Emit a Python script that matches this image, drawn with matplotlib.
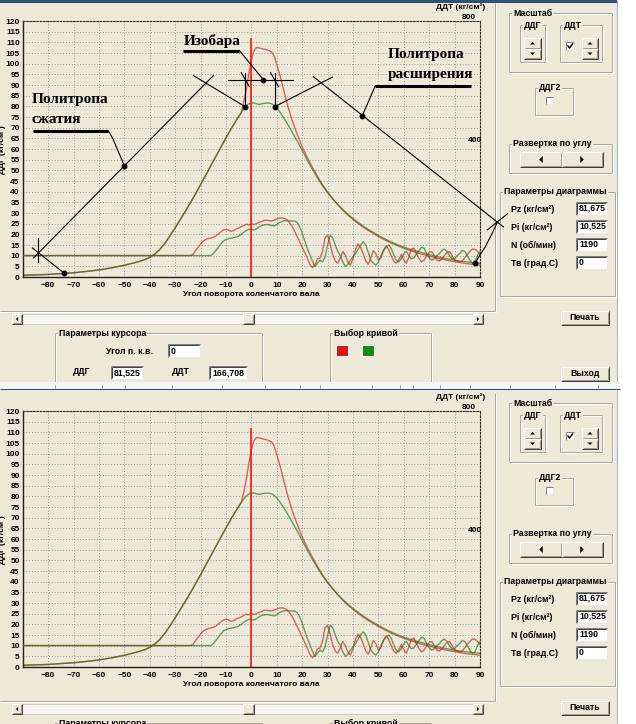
import matplotlib
matplotlib.use('Agg')
import matplotlib.pyplot as plt
from matplotlib.patches import Rectangle, Polygon

plt.rcParams['font.family'] = ['Liberation Sans', 'DejaVu Sans']
plt.rcParams['font.weight'] = 'bold'

# ---------------- data ----------------
# cylinder pressure ДДГ (кг/см²), left scale
angle_main = [-90, -85, -80, -75, -70, -65, -60, -55, -50, -45, -42,
              -40, -38, -36, -34, -32, -30, -28, -26, -24, -22, -20, -18, -16,
              -14, -12, -10, -8, -6, -4,
              -3, -2, -1, 0, 1, 2, 3, 4, 5, 6, 7, 8, 9, 10, 11, 12,
              14, 16, 18, 20, 22, 24, 26, 28, 30, 32, 34, 36, 38, 40, 42, 44,
              46, 48, 50, 52, 54, 56, 58, 60, 62, 64, 66, 68, 70, 72, 74, 76,
              78, 80, 82, 84, 86, 88, 90]
compression = [0.8, 1.0, 1.2, 1.6, 2.0, 2.6, 3.3, 4.3, 5.5, 7.0, 8.1,
               9.2, 10.8, 13.0, 15.9, 19.4, 23.1, 26.9, 30.8, 34.8, 39.0, 43.3,
               47.7, 52.1, 56.5, 60.9, 65.2, 69.4, 73.4, 77.1]
ddg_green = compression + [
    78.8, 80.2, 81.2, 81.5, 81.6, 81.2, 80.9, 81.1, 81.4, 81.5, 81.5, 81.2,
    80.4, 79.2, 77.7, 76.0,
    72.2, 68.0, 63.8, 59.3, 54.8, 50.5, 46.5, 42.8, 39.5, 36.6, 34.0, 31.6,
    29.4, 27.4, 25.6, 23.9, 22.3, 20.9, 19.5, 18.2, 17.0, 15.9, 14.9, 14.0,
    13.2, 12.5, 11.8, 11.1, 10.5, 9.9, 9.3, 8.8, 8.3, 7.9, 7.5, 7.2, 6.9,
    6.6, 6.4]
ddg_red = compression + [
    82.0, 88.0, 95.5, 102.0, 106.0, 107.6, 107.4, 107.1, 106.8, 106.5, 106.1,
    105.4, 103.5, 99.5, 95.5, 91.0,
    81.5, 73.5, 67.0, 61.0, 56.0, 51.5, 47.2, 43.2, 39.8, 36.7, 33.9, 31.3,
    29.0, 27.0, 25.1, 23.4, 21.8, 20.4, 19.0, 17.7, 16.5, 15.4, 14.4, 13.5,
    12.6, 11.8, 11.1, 10.4, 9.8, 9.2, 8.6, 8.1, 7.6, 7.2, 6.8, 6.4, 6.1,
    5.8, 5.5]

# fuel pressure ДДТ (кг/см²), right scale 0..800
angle_fuel = [-90] + list(range(-24, 91))
ddt_red = [67,
           67, 70, 83, 93, 103, 112, 117, 120, 122, 124, 128, 135, 141, 147,
           149, 147, 143, 145, 150, 153, 157, 161, 165, 163, 167, 164, 167,
           171, 173, 177, 177, 176, 175, 178, 181, 184, 185, 183, 179, 170,
           159, 143, 127, 110, 93, 77, 59, 40, 29, 37, 57, 59, 80, 123, 130,
           103, 70, 50, 43, 60, 80, 67, 47, 37, 57, 87, 103, 93, 73, 50, 40,
           60, 83, 73, 53, 60, 83, 97, 87, 67, 50, 43, 53, 70, 53, 43, 63, 87,
           90, 73, 57, 47, 53, 67, 77, 80, 67, 53, 50, 57, 67, 77, 80, 67, 53,
           50, 47, 50, 60, 70, 80, 87, 87, 80, 70]
ddt_green = [67,
             67, 67, 67, 67, 67, 67, 67, 67, 67, 73, 83, 93, 103, 113, 117,
             120, 121, 123, 125, 128, 133, 140, 145, 149, 148, 147, 151, 157,
             161, 163, 164, 163, 161, 160, 164, 170, 173, 176, 176, 175, 175,
             175, 170, 157, 137, 113, 90, 70, 50, 33, 43, 53, 47, 63, 100, 130,
             123, 100, 80, 67, 47, 33, 40, 53, 63, 73, 87, 100, 110, 100, 77,
             53, 43, 37, 47, 67, 83, 93, 100, 90, 70, 53, 47, 57, 73, 80, 67,
             57, 60, 73, 83, 93, 90, 73, 60, 53, 57, 67, 73, 83, 87, 80, 67,
             57, 57, 67, 73, 83, 80, 67, 53, 43, 47, 67, 80]

x_ticks = list(range(-80, 91, 10))
y_ticks = list(range(0, 121, 5))
cursor_pos = 0
param_names = ['Pz (кг/см²)', 'Pi (кг/см²)', 'N (об/мин)', 'Тв (град.С)']
param_values = ['81,675', '10,525', '1190', '0']
cursor_angle, cursor_ddg, cursor_ddt = '0', '81,525', '166,708'

# ---------------- look ----------------
W, H = 636, 724
BG = '#ECE9D8'
RED = (0.82, 0.1, 0.1)
GREEN = (0.1, 0.45, 0.1)
PX = 0.72  # one pixel in points
FS = 6.3

fig = plt.figure(figsize=(W / 100, H / 100), dpi=100, facecolor='white')
ui = fig.add_axes([0, 0, 1, 1], zorder=0)
ui.set_xlim(0, W)
ui.set_ylim(H, 0)
ui.axis('off')


def hline(x0, x1, y, c, z=2):
    ui.plot([x0, x1], [y, y], color=c, lw=PX, solid_capstyle='butt', zorder=z)


def vline(x, y0, y1, c, z=2):
    ui.plot([x, x], [y0, y1], color=c, lw=PX, solid_capstyle='butt', zorder=z)


def group(x0, y0, x1, y1, label=None, closed=True):
    for off, c in ((1, 'white'), (0, '#ACA899')):
        hline(x0 + off, x1 + off, y0 + off, c)
        if closed:
            hline(x0 + off, x1 + off, y1 + off, c)
        vline(x0 + off, y0 + off, y1 + off, c)
        vline(x1 + off, y0 + off, y1 + off, c)
    if label:
        ui.text(x0 + 4, y0, label, fontsize=FS, va='center', ha='left', zorder=3,
                bbox=dict(boxstyle='square,pad=0.12', fc=BG, ec='none'))


def button(x0, y0, x1, y1, label=None):
    ui.add_patch(Rectangle((x0, y0), x1 - x0, y1 - y0, fc=BG, ec='none', zorder=2))
    hline(x0, x1, y0, 'white', 3)
    vline(x0, y0, y1, 'white', 3)
    hline(x0, x1, y1, '#404040', 3)
    vline(x1, y0, y1, '#404040', 3)
    hline(x0 + 1, x1 - 1, y1 - 1, '#9d9a8a', 3)
    vline(x1 - 1, y0 + 1, y1 - 1, '#9d9a8a', 3)
    if label:
        ui.text((x0 + x1) / 2, (y0 + y1) / 2, label, fontsize=FS, ha='center',
                va='center', zorder=4)


def textbox(x0, y0, x1, y1, value):
    ui.add_patch(Rectangle((x0, y0), x1 - x0, y1 - y0, fc='white', ec='none', zorder=2))
    hline(x0, x1, y0, '#808080', 3)
    vline(x0, y0, y1, '#808080', 3)
    hline(x0 + 1, x1 - 1, y0 + 1, '#404040', 3)
    vline(x0 + 1, y0 + 1, y1 - 1, '#404040', 3)
    ui.text(x0 + 3, (y0 + y1) / 2 + 0.5, value, fontsize=FS, ha='left', va='center', zorder=4)


def tri(cx, cy, s, d):
    if d == 'up':
        pts = [(cx - s, cy + s / 2), (cx + s, cy + s / 2), (cx, cy - s / 2)]
    elif d == 'down':
        pts = [(cx - s, cy - s / 2), (cx + s, cy - s / 2), (cx, cy + s / 2)]
    elif d == 'left':
        pts = [(cx + s / 2, cy - s), (cx + s / 2, cy + s), (cx - s / 2, cy)]
    else:
        pts = [(cx - s / 2, cy - s), (cx - s / 2, cy + s), (cx + s / 2, cy)]
    ui.add_patch(Polygon(pts, closed=True, fc='black', ec='none', zorder=4))


def spinner(x0, y0, x1, y1):
    ym = (y0 + y1) / 2
    button(x0, y0, x1, ym)
    button(x0, ym, x1, y1)
    tri((x0 + x1) / 2, (y0 + ym) / 2, 2.5, 'up')
    tri((x0 + x1) / 2, (ym + y1) / 2, 2.5, 'down')


def checkbox(x0, y0, s, checked):
    ui.add_patch(Rectangle((x0, y0), s, s, fc='white', ec='none', zorder=2))
    hline(x0, x0 + s, y0, '#808080', 3)
    vline(x0, y0, y0 + s, '#808080', 3)
    if checked:
        ui.plot([x0 + 2, x0 + 3.5, x0 + 6.5], [y0 + 4, y0 + 6, y0 + 2],
                color='black', lw=1.1, zorder=4)


def draw_panel(dy, annotate):
    # window background
    ui.add_patch(Rectangle((0, dy), 617, 382 if dy == 0 else H - dy, fc=BG,
                           ec='none', zorder=1))
    vline(616.5, dy, 382 if dy == 0 else H, '#9cb0d0')

    # chart frame
    hline(0, 495, 310.5 + dy, '#ACA899')
    hline(0, 496, 311.5 + dy, 'white')
    vline(494.5, 3 + dy, 311 + dy, '#ACA899')
    vline(495.5, 3 + dy, 312 + dy, 'white')

    left, right, top, bottom = 22.8, 480.0, 21.0 + dy, 277.0 + dy
    ax = fig.add_axes([left / W, 1 - bottom / H, (right - left) / W, (bottom - top) / H],
                      zorder=1)
    ax.patch.set_visible(False)
    ax.set_xlim(-90, 90)
    ax.set_ylim(0, 120)
    ax.set_xticks(x_ticks)
    ax.set_yticks(y_ticks)
    ax.tick_params(length=0, labelsize=6)
    ax.tick_params(axis='y', pad=2.2)
    ax.tick_params(axis='x', pad=3.8)
    ax.grid(True, color='#8c8c8c', lw=0.6, ls=(0, (1.2, 2.2)))
    ax.set_axisbelow(True)
    for s in ('left', 'bottom'):
        ax.spines[s].set_color('#202020')
        ax.spines[s].set_linewidth(1.0)
    for s in ('top', 'right'):
        ax.spines[s].set_color('#303030')
        ax.spines[s].set_linewidth(0.8)
        ax.spines[s].set_linestyle((0, (1.5, 1.5)))
    ax.set_xlabel('Угол поворота коленчатого вала', fontsize=6, labelpad=1.5,
                  fontweight='bold')

    ax.plot(angle_main, ddg_red, color=RED, alpha=0.65, lw=1.0)
    ax.plot(angle_main, ddg_green, color=GREEN, alpha=0.65, lw=1.0)

    ax2 = ax.twinx()
    ax2.set_ylim(0, 800)
    ax2.set_yticks([])
    for s in ax2.spines.values():
        s.set_visible(False)
    ax2.plot(angle_fuel, ddt_red, color=RED, alpha=0.65, lw=1.0)
    ax2.plot(angle_fuel, ddt_green, color=GREEN, alpha=0.65, lw=1.0)
    ax2.axvline(cursor_pos, 0, 111.5 / 120, color='#ff1010', lw=1.2)

    ty = ax2.get_yaxis_transform()
    ax2.text(1.004, 425, '400', transform=ty, ha='right', va='center', fontsize=6)
    ax2.text(0.99, 800, '800', transform=ty, ha='right', va='bottom', fontsize=6)
    ui.text(485, 7 + dy, 'ДДТ (кг/см²)', ha='right', va='center', fontsize=6, zorder=3)
    ui.text(2.5, 150 + dy, 'ДДГ (кг/см²)', rotation=90, ha='center', va='center',
            fontsize=6, zorder=3)

    if annotate:
        draw_annotations(ax, ax2)

    # right-hand controls
    group(509, 13 + dy, 612, 72 + dy, 'Масштаб')
    group(520, 25 + dy, 545, 62 + dy, 'ДДГ')
    spinner(524, 38 + dy, 541, 59 + dy)
    group(560, 25 + dy, 602, 62 + dy, 'ДДТ')
    checkbox(566, 42 + dy, 8, True)
    spinner(582, 38 + dy, 598, 59 + dy)
    group(535, 88 + dy, 573, 115 + dy, 'ДДГ2')
    checkbox(546, 97 + dy, 7, False)
    group(509, 144 + dy, 612, 173 + dy, 'Развертка по углу')
    button(520, 152 + dy, 562, 167 + dy)
    button(562, 152 + dy, 603, 167 + dy)
    tri(541, 159.5 + dy, 3.5, 'left')
    tri(582, 159.5 + dy, 3.5, 'right')
    group(500, 192 + dy, 615, 296 + dy, 'Параметры диаграммы')
    for i, (name, val) in enumerate(zip(param_names, param_values)):
        yc = 208 + 18 * i + dy
        ui.text(511, yc + 1, name, fontsize=FS, ha='left', va='center', zorder=3)
        textbox(576, yc - 6.5, 607, yc + 6.5, val)

    # scrollbar and buttons
    ui.add_patch(Rectangle((12, 314 + dy), 471, 10, fc='#F7F6F1', ec='#D0CDC0',
                           lw=PX, zorder=2))
    button(12, 314 + dy, 22, 324 + dy)
    button(473, 314 + dy, 483, 324 + dy)
    button(243, 314 + dy, 254, 324 + dy)
    tri(17, 319 + dy, 2.2, 'left')
    tri(478, 319 + dy, 2.2, 'right')
    button(561, 311 + dy, 609, 325 + dy, 'Печать')

    # the window continues below the cut, so these frames stay open
    group(55, 333 + dy, 262, 384 + dy, 'Параметры курсора', closed=False)
    ui.text(153, 352 + dy, 'Угол п. к.в.', fontsize=FS, ha='right', va='center', zorder=3)
    textbox(168, 344 + dy, 200, 357 + dy, cursor_angle)
    ui.text(90, 372 + dy, 'ДДГ', fontsize=FS, ha='right', va='center', zorder=3)
    textbox(111, 366 + dy, 143, 379 + dy, cursor_ddg)
    ui.text(190, 372 + dy, 'ДДТ', fontsize=FS, ha='right', va='center', zorder=3)
    textbox(209, 366 + dy, 247, 379 + dy, cursor_ddt)
    group(330, 333 + dy, 431, 384 + dy, 'Выбор кривой', closed=False)
    ui.add_patch(Rectangle((336, 345 + dy), 12, 11, fc='#e01414', ec='white',
                           lw=PX, zorder=3))
    ui.add_patch(Rectangle((362, 345 + dy), 12, 11, fc='#138a13', ec='white',
                           lw=PX, zorder=3))
    button(561, 367 + dy, 609, 381 + dy, 'Выход')


def draw_annotations(ax, ax2):
    tr = ax.transData
    kw = dict(color='black', lw=0.8, transform=tr, clip_on=False, zorder=6)
    dot = dict(color='black', marker='o', ms=3.2, ls='none', transform=tr,
               clip_on=False, zorder=7)
    txt = dict(transform=tr, fontfamily=['Liberation Serif', 'DejaVu Serif'],
               fontweight='bold', fontsize=11, ha='left', va='center',
               clip_on=False, zorder=7)
    ul = dict(color='black', lw=2.2, transform=tr, clip_on=False, zorder=6,
              solid_capstyle='butt')

    # compression polytrope
    ax2.plot([-85.8, -15.0], [8.9, 94.4], **kw)
    ax2.plot([-86.2, -73.6], [13.6, 1.7], **kw)
    ax2.plot([-83.9, -83.9], [7.0, 18.3], **kw)
    ax2.plot([-22.8, -2.4], [94.4, 79.8], **kw)
    ax2.plot([-56.3, -54.6, -50.0], [68.5, 65.0, 52.1], **kw)
    ax2.plot([-86.0, -56.3], [68.5, 68.5], **ul)
    ax2.plot([-73.6, -50.0, -2.4], [1.7, 52.1, 79.8], **dot)
    ax2.text(-86.4, 83.3, 'Политропа', **txt)
    ax2.text(-86.4, 73.6, 'сжатия', **txt)

    # isobar
    ax2.plot([-9.1, 16.5], [92.5, 92.5], **kw)
    ax2.plot([-2.4, -2.4], [95.8, 79.8], **kw)
    ax2.plot([9.1, 9.1], [95.8, 79.8], **kw)
    ax2.plot([-4.0, -0.8], [95.8, 89.2], **kw)
    ax2.plot([7.5, 10.7], [95.8, 89.2], **kw)
    ax2.plot([-26.8, -4.7], [106.1, 106.1], **ul)
    ax2.plot([-4.7, 4.7], [106.1, 92.5], **kw)
    ax2.plot([4.7, 9.1], [92.5, 79.8], **dot)
    ax2.text(-26.8, 110.4, 'Изобара', **txt)

    # expansion polytrope
    ax2.plot([9.1, 31.9], [79.8, 93.7], **kw)
    ax2.plot([24.4, 99.2], [93.9, 23.5], **kw)
    ax2.plot([92.9, 100.8], [22.1, 29.6], **kw)
    ax2.plot([96.9, 94.8, 92.1, 87.9], [25.8, 20.5, 14.2, 6.4], **kw)
    ax2.plot([48.8, 86.4], [89.7, 89.7], **ul)
    ax2.plot([48.8, 43.7], [89.7, 75.7], **kw)
    ax2.plot([43.7, 87.9], [75.7, 6.4], **dot)
    ax2.text(53.5, 104.4, 'Политропа', **txt)
    ax2.text(53.5, 95.0, 'расширения', **txt)


draw_panel(0, True)
draw_panel(390, False)

# strip between the two screenshots and window edges
ui.add_patch(Rectangle((0, 382), 620, 7, fc='#F5F5F2', ec='none', zorder=8))
for xt in (55, 102, 125, 172, 222, 265, 300, 320, 372, 400, 413, 440, 470, 510,
           555, 598):
    vline(xt, 385, 388, '#9a9a9a', 9)
hline(0, 620, 389.3, '#2B4C7E', 9)
ui.add_patch(Rectangle((0, 0), 617, 2.5, fc='#2F5370', ec='none', zorder=8))

fig.savefig('out.png', dpi=100, facecolor='white')
